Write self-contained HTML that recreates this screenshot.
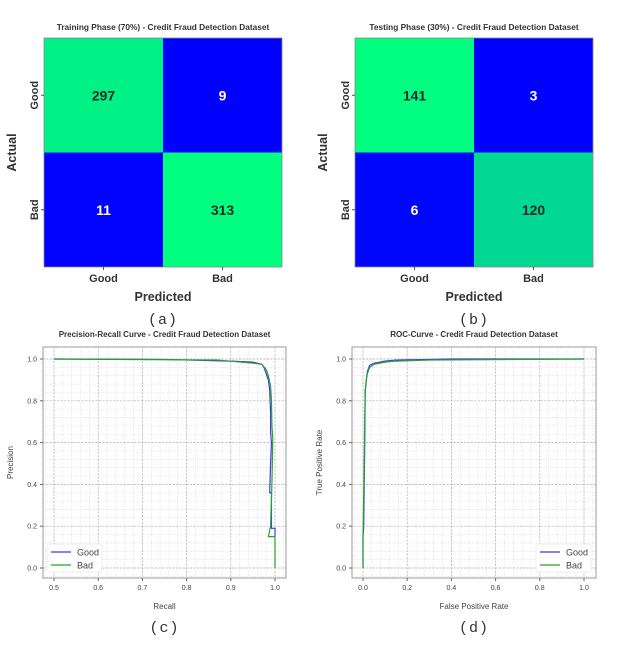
<!DOCTYPE html>
<html><head><meta charset="utf-8"><style>
body{margin:0;background:#fff;font-family:"Liberation Sans",sans-serif;}
</style></head><body>
<svg id="fig" width="623" height="641" viewBox="0 0 623 641" font-family="Liberation Sans, sans-serif">
<g id="root"></g>
</svg>
<script>
const cmLabels=["Good","Bad"];
const trainVals=[[297,9],[11,313]];
const testVals=[[141,3],[6,120]];
const prTicksX=[0.5,0.6,0.7,0.8,0.9,1.0];
const rocTicksX=[0.0,0.2,0.4,0.6,0.8,1.0];
const yTicks=[0.0,0.2,0.4,0.6,0.8,1.0];
const prGoodRecall=[0.5,0.75,0.9,0.95,0.97,0.975,0.98,0.985,0.988,0.99,0.99,0.992,0.99,0.988,0.992,0.992,1.0,1.0];
const prGoodPrec=[1.0,0.998,0.99,0.985,0.975,0.96,0.93,0.9,0.85,0.74,0.65,0.6,0.5,0.36,0.36,0.19,0.19,0.15];
const prBadRecall=[0.5,0.87,0.95,0.97,0.98,0.985,0.99,0.992,0.993,0.995,0.993,0.99,0.985,1.0,1.0];
const prBadPrec=[1.0,0.995,0.98,0.975,0.95,0.92,0.87,0.8,0.68,0.62,0.4,0.2,0.15,0.15,0.0];
const rocGoodFpr=[0,0,0.003,0.005,0.008,0.01,0.015,0.02,0.03,0.05,0.1,0.15,0.4,1.0];
const rocGoodTpr=[0,0.15,0.19,0.35,0.6,0.85,0.9,0.94,0.97,0.98,0.99,0.995,1.0,1.0];
const rocBadFpr=[0,0,0.004,0.007,0.01,0.015,0.02,0.03,0.05,0.1,0.15,0.3,1.0];
const rocBadTpr=[0,0.15,0.4,0.65,0.84,0.9,0.93,0.96,0.975,0.985,0.99,0.995,1.0];

const NS="http://www.w3.org/2000/svg";
const root=document.getElementById('root');
function el(tag,attrs,parent,text){const e=document.createElementNS(NS,tag);for(const k in attrs)e.setAttribute(k,attrs[k]);if(text!==undefined)e.textContent=text;(parent||root).appendChild(e);return e;}
function winter(v){return `rgb(0,${Math.round(255*v)},${Math.round(255*(1-0.5*v))})`;}
const capStyle='font-family:"Liberation Mono",monospace;font-size:15px;letter-spacing:1px';

function cm(x0,y0,w,h,vals,title,cap,key){
  const g=el('g',{});
  
  
  const flat=vals.flat(),mn=Math.min(...flat),mx=Math.max(...flat);
  const t=el('text',{x:x0+w/2,y:y0-8,'text-anchor':'middle','font-size':8.3,'font-weight':'bold',fill:'#333'},g,title);
  
  const cw=w/2,ch=h/2;
  for(let i=0;i<2;i++)for(let j=0;j<2;j++){
    const v=(vals[i][j]-mn)/(mx-mn);
    const r=el('rect',{x:x0+j*cw,y:y0+i*ch,width:cw,height:ch,fill:winter(v)},g);
    
    
    const tx=el('text',{x:x0+j*cw+cw/2,y:y0+i*ch+ch/2+5,'text-anchor':'middle','font-size':14,'font-weight':'bold',fill:v>0.5?'#1a2a22':'#fff'},g,String(vals[i][j]));
    
  }
  el('rect',{x:x0,y:y0,width:w,height:h,fill:'none',stroke:'#888','stroke-width':0.8},g);
  for(let j=0;j<2;j++){
    const lx=el('text',{x:x0+j*cw+cw/2,y:y0+h+15,'text-anchor':'middle','font-size':11,'font-weight':'bold',fill:'#333'},g,cmLabels[j]);
    
    el('line',{x1:x0+j*cw+cw/2,x2:x0+j*cw+cw/2,y1:y0+h,y2:y0+h+3,stroke:'#555'},g);
    const cy=y0+j*ch+ch/2;
    const ly=el('text',{x:0,y:0,'text-anchor':'middle','font-size':11,'font-weight':'bold',fill:'#333',transform:`translate(${x0-6},${cy}) rotate(-90)`},g,cmLabels[j]);
    
    el('line',{x1:x0-3,x2:x0,y1:cy,y2:cy,stroke:'#555'},g);
  }
  const xl=el('text',{x:x0+w/2,y:y0+h+34,'text-anchor':'middle','font-size':12.5,'font-weight':'bold',fill:'#333'},g,'Predicted');
  
  const yl=el('text',{x:0,y:0,'text-anchor':'middle','font-size':12.5,'font-weight':'bold',fill:'#333',transform:`translate(${x0-28},${y0+h/2}) rotate(-90)`},g,'Actual');
  
  const c=el('text',{x:x0+w/2,y:y0+h+57,'text-anchor':'middle',fill:'#333',style:capStyle},g,cap);
  
}
cm(44,38,238,229,trainVals,'Training Phase (70%) - Credit Fraud Detection Dataset','(a)','train');
cm(355,38,238,229,testVals,'Testing Phase (30%) - Credit Fraud Detection Dataset','(b)','test');

function curvePlot(opt){
  const g=el('g',{});
  
  
  const {fx0,fx1,fy0,fy1,px0,px1,xmin,xmax}=opt;
  const X=v=>px0+(v-xmin)/(xmax-xmin)*(px1-px0);
  const Y=v=>568-(v)*(568-359);
  el('rect',{x:fx0,y:fy0,width:fx1-fx0,height:fy1-fy0,fill:'#fff',stroke:'#999','stroke-width':1},g);
  const xs=opt.xticks, step=(xs[1]-xs[0])/5;
  for(let v=xs[0]-step;v<=xs[xs.length-1]+step*1.01;v+=step){const px=X(v);if(px<=fx0||px>=fx1)continue;el('line',{x1:px,x2:px,y1:fy0,y2:fy1,stroke:'#d4d4d4','stroke-width':0.5,'stroke-dasharray':'1,1'},g);}
  for(let v=-0.04;v<=1.04;v+=0.04){const py=Y(v);if(py<=fy0||py>=fy1)continue;el('line',{x1:fx0,x2:fx1,y1:py,y2:py,stroke:'#d4d4d4','stroke-width':0.5,'stroke-dasharray':'1,1'},g);}
  xs.forEach(v=>{const px=X(v);el('line',{x1:px,x2:px,y1:fy0,y2:fy1,stroke:'#b0b0b0','stroke-width':0.7,'stroke-dasharray':'2,1.5'},g);
    el('line',{x1:px,x2:px,y1:fy1,y2:fy1+3,stroke:'#666'},g);
    const t=el('text',{x:px,y:fy1+12,'text-anchor':'middle','font-size':7,fill:'#444'},g,v.toFixed(1));});
  yTicks.forEach(v=>{const py=Y(v);el('line',{x1:fx0,x2:fx1,y1:py,y2:py,stroke:'#b0b0b0','stroke-width':0.7,'stroke-dasharray':'2,1.5'},g);
    el('line',{x1:fx0-3,x2:fx0,y1:py,y2:py,stroke:'#666'},g);
    const t=el('text',{x:fx0-6,y:py+2.5,'text-anchor':'end','font-size':7,fill:'#444'},g,v.toFixed(1));});
  const series=[[opt.g[0],opt.g[1],'#3a3af0','good'],[opt.b[0],opt.b[1],'#2aa02a','bad']];
  series.forEach(s=>{const p=el('polyline',{points:s[0].map((v,i)=>X(v)+','+Y(s[1][i])).join(' '),fill:'none',stroke:s[2],'stroke-width':1.2},g);
    });
  const tt=el('text',{x:(fx0+fx1)/2,y:fy0-10,'text-anchor':'middle','font-size':8,'font-weight':'bold',fill:'#333'},g,opt.title);
  
  const xl=el('text',{x:(fx0+fx1)/2,y:fy1+31,'text-anchor':'middle','font-size':8,fill:'#444'},g,opt.xlabel);
  
  const yl=el('text',{x:0,y:0,'text-anchor':'middle','font-size':8,fill:'#444',transform:`translate(${fx0-30},${(fy0+fy1)/2}) rotate(-90)`},g,opt.ylabel);
  
  const lg=el('g',{},g);
  const lx=opt.legX,ly=fy1-34;
  el('rect',{x:lx,y:ly,width:55,height:28,fill:'#fff',stroke:'#eee',rx:2},lg);
  [['Good','#3a3af0'],['Bad','#2aa02a']].forEach((e,i)=>{
    el('line',{x1:lx+4,x2:lx+24,y1:ly+8+i*13,y2:ly+8+i*13,stroke:e[1],'stroke-width':1.3},lg);
    const t=el('text',{x:lx+30,y:ly+11.5+i*13,'font-size':9,fill:'#444'},lg,e[0]);});
  const c=el('text',{x:(fx0+fx1)/2,y:fy1+54,'text-anchor':'middle',fill:'#333',style:capStyle},g,opt.cap);
  
}
curvePlot({key:'pr',fx0:43,fx1:286,fy0:347,fy1:578,px0:54,px1:275,xmin:0.5,xmax:1.0,xticks:prTicksX,
  g:[prGoodRecall,prGoodPrec],b:[prBadRecall,prBadPrec],title:'Precision-Recall Curve - Credit Fraud Detection Dataset',
  xlabel:'Recall',ylabel:'Precision',cap:'(c)',legX:47});
curvePlot({key:'roc',fx0:352,fx1:596,fy0:347,fy1:578,px0:363,px1:584,xmin:0,xmax:1.0,xticks:rocTicksX,
  g:[rocGoodFpr,rocGoodTpr],b:[rocBadFpr,rocBadTpr],title:'ROC-Curve - Credit Fraud Detection Dataset',
  xlabel:'False Positive Rate',ylabel:'True Positive Rate',cap:'(d)',legX:536});
</script>
</body></html>
